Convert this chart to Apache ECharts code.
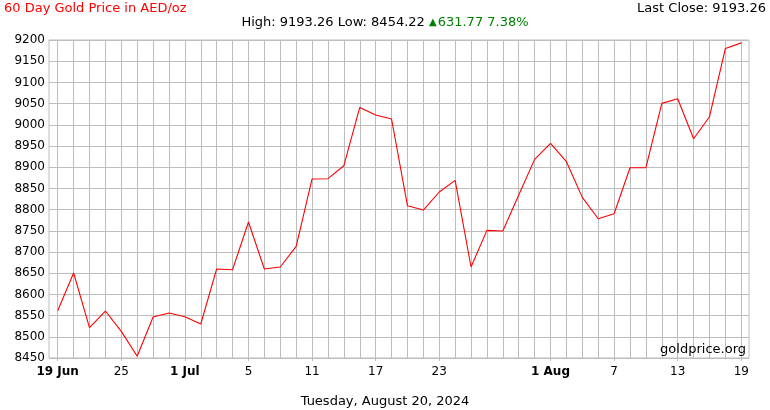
<!DOCTYPE html>
<html>
<head>
<meta charset="utf-8">
<script src="https://cdn.jsdelivr.net/npm/echarts@6/dist/echarts.min.js"></script>
<style>html,body{margin:0;padding:0;background:#fff;}#c{width:770px;height:410px;}</style>
</head>
<body>
<div id="c"></div>
<script>
const dates = [
  "2024-06-19","2024-06-20","2024-06-21","2024-06-24","2024-06-25","2024-06-26","2024-06-27","2024-06-28",
  "2024-07-01","2024-07-02","2024-07-03","2024-07-04","2024-07-05","2024-07-08","2024-07-09","2024-07-10",
  "2024-07-11","2024-07-12","2024-07-15","2024-07-16","2024-07-17","2024-07-18","2024-07-19","2024-07-22",
  "2024-07-23","2024-07-24","2024-07-25","2024-07-26","2024-07-29","2024-07-30","2024-07-31",
  "2024-08-01","2024-08-02","2024-08-05","2024-08-06","2024-08-07","2024-08-08","2024-08-09",
  "2024-08-12","2024-08-13","2024-08-14","2024-08-15","2024-08-16","2024-08-19"
];
const prices = [
  8561.49, 8650.5, 8521.5, 8560.8, 8512.7, 8454.22, 8546.7, 8556.1,
  8547.4, 8530.2, 8660.0, 8658.3, 8770.8, 8660.0, 8664.6, 8713.2,
  8872.2, 8872.9, 8903.5, 9041.0, 9023.0, 9013.7, 8809.2, 8799.0,
  8841.5, 8868.9, 8664.6, 8751.0, 8749.5, 8834.4, 8918.4,
  8956.1, 8913.0, 8828.8, 8778.5, 8790.3, 8898.8, 8898.8,
  9050.5, 9061.6, 8967.2, 9019.1, 9180.2, 9193.26
];
const tickDates  = ["2024-06-19","2024-06-25","2024-07-01","2024-07-05","2024-07-11","2024-07-17","2024-07-23","2024-08-01","2024-08-07","2024-08-13","2024-08-19"];
const tickLabels = ["19 Jun","25","1 Jul","5","11","17","23","1 Aug","7","13","19"];
const boldTicks  = ["19 Jun","1 Jul","1 Aug"];
const yMin = 8450, yMax = 9200, yStep = 50;

const titleText = "60 Day Gold Price in AED/oz";
const lastClose = "Last Close: 9193.26";
const statsText = "High: 9193.26 Low: 8454.22 ";
const changeText = "631.77 7.38%";
const dateText = "Tuesday, August 20, 2024";
const brand = "goldprice.org";

const FONT = "DejaVu Sans";
const GRID = "#bdbdbd";

const tickSet = {};
tickDates.forEach((d, i) => { tickSet[d] = tickLabels[i]; });
const showTick = (idx, val) => tickSet[val] !== undefined;

const chart = echarts.init(document.getElementById('c'), null, {renderer: 'canvas'});
chart.setOption({
  animation: false,
  backgroundColor: '#fff',
  textStyle: {fontFamily: FONT},
  title: [
    {text: titleText, left: 4, top: 2, padding: 0,
     textStyle: {color: '#ff0000', fontSize: 13, fontWeight: 'normal', fontFamily: FONT}},
    {text: lastClose, right: 4, top: 2, padding: 0,
     textStyle: {color: '#000', fontSize: 13, fontWeight: 'normal', fontFamily: FONT}},
    {text: statsText + '{up|▲}{g|' + changeText + '}', left: 'center', top: 16, padding: 0,
     textStyle: {color: '#000', fontSize: 13, fontWeight: 'normal', fontFamily: FONT,
       rich: {
         up: {color: '#008000', fontSize: 10, fontFamily: FONT, padding: [0, 1, 0, 0]},
         g: {color: '#008000', fontSize: 13, fontFamily: FONT}
       }}},
    {text: dateText, left: 'center', top: 395, padding: 0,
     textStyle: {color: '#000', fontSize: 13, fontWeight: 'normal', fontFamily: FONT}},
    {text: brand, right: 24, top: 343, padding: 0,
     textStyle: {color: '#000', fontSize: 13, fontWeight: 'normal', fontFamily: FONT}}
  ],
  grid: [
    {left: 49, top: 40, width: 700, height: 318, show: true, borderColor: GRID, borderWidth: 1, backgroundColor: 'transparent'},
    {left: 57.7, top: 40, width: 683.6, height: 318}
  ],
  xAxis: [
    {gridIndex: 0, type: 'value', min: 0, max: 1, show: false},
    {gridIndex: 1, type: 'category', data: dates, boundaryGap: false,
     axisLine: {show: false},
     axisTick: {show: true, interval: showTick, length: 3, lineStyle: {color: GRID}},
     axisLabel: {interval: showTick, margin: 8, fontSize: 12, color: '#000', fontFamily: FONT,
       formatter: (v) => {
         const t = tickSet[v];
         return boldTicks.indexOf(t) >= 0 ? '{b|' + t + '}' : t;
       },
       rich: {b: {fontWeight: 'bold', fontSize: 12, color: '#000', fontFamily: FONT}}},
     splitLine: {show: true, interval: 0, lineStyle: {color: GRID, width: 1}}}
  ],
  yAxis: [
    {gridIndex: 0, type: 'value', min: yMin, max: yMax, interval: yStep,
     axisLine: {show: false}, axisTick: {show: false},
     axisLabel: {margin: 4, fontSize: 12, color: '#000', fontFamily: FONT, formatter: (v) => String(v)},
     splitLine: {show: true, lineStyle: {color: GRID, width: 1}}},
    {gridIndex: 1, type: 'value', min: yMin, max: yMax, show: false, splitLine: {show: false}}
  ],
  series: [
    {type: 'line', xAxisIndex: 1, yAxisIndex: 1, data: prices, showSymbol: false,
     lineStyle: {color: '#ff0000', width: 1.1}, silent: true}
  ]
});
</script>
</body>
</html>
